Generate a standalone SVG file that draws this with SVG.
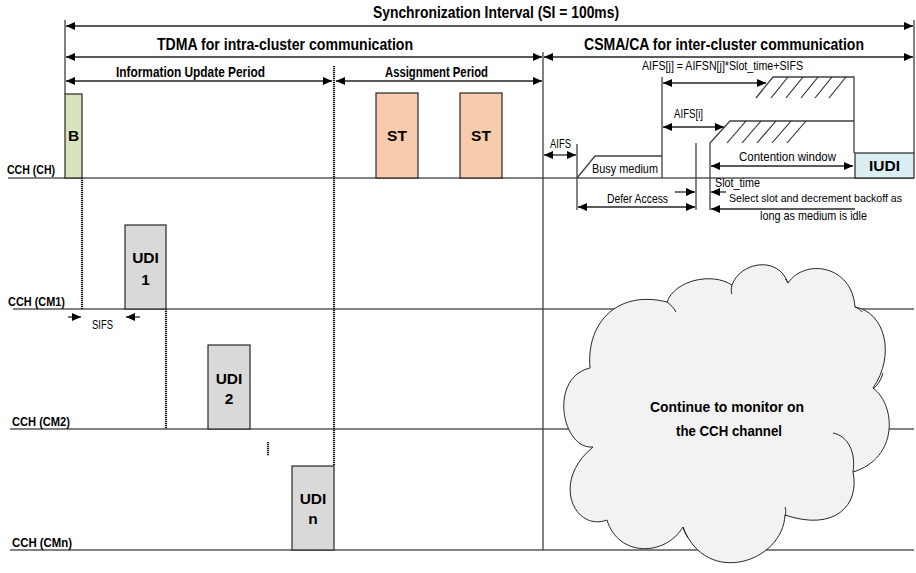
<svg xmlns="http://www.w3.org/2000/svg" width="916" height="573" viewBox="0 0 916 573">
<style>
text{font-family:"Liberation Sans",Arial,sans-serif;fill:#000}
.b{font-weight:bold}
.t16{font-size:16.5px}
.t15{font-size:15.5px}
.t14{font-size:14px}
.t13{font-size:13px}
.t12{font-size:13px}
.ln{stroke:#404040;stroke-width:1.3;fill:none}
.ch{stroke:#595959;stroke-width:1.3;fill:none}
.ar{stroke:#262626;stroke-width:1.3;fill:none;marker-end:url(#ah)}
.ar2{stroke:#262626;stroke-width:1.3;fill:none;marker-start:url(#ah);marker-end:url(#ah)}
.dot{stroke:#1a1a1a;stroke-width:2.2;stroke-dasharray:1.2 0.8;fill:none}
.box{stroke:#262626;stroke-width:1.2}
.ha{stroke:#262626;stroke-width:1.1;fill:none}
.cl{fill:none;stroke:#262626;stroke-width:1}
</style>
<defs>
<marker id="ah" markerUnits="userSpaceOnUse" markerWidth="10" markerHeight="9" refX="9" refY="4" orient="auto-start-reverse" viewBox="0 0 10 8">
<path d="M0,0 L9,4 L0,8 z" fill="#000"/>
</marker>
</defs>

<g id="channels">
<line class="ch" x1="8" y1="178" x2="914" y2="178"/>
<line class="ch" x1="13" y1="309" x2="914" y2="309"/>
<line class="ch" x1="10" y1="429" x2="914" y2="429"/>
<line class="ch" x1="10" y1="550" x2="914" y2="550"/>
<text class="b t13" x="7" y="174" textLength="48" lengthAdjust="spacingAndGlyphs">CCH (CH)</text>
<text class="b t13" x="8" y="306" textLength="57" lengthAdjust="spacingAndGlyphs">CCH (CM1)</text>
<text class="b t13" x="12" y="426" textLength="58" lengthAdjust="spacingAndGlyphs">CCH (CM2)</text>
<text class="b t13" x="12" y="547" textLength="60" lengthAdjust="spacingAndGlyphs">CCH (CMn)</text>
</g>

<g id="cloud">
<path d="M590,368 C586,320 620,290 667,302 C675,280 712,272 732,285 C740,262 778,255 788,283 C805,258 852,265 855,307 C885,312 896,355 873,388 C896,405 899,458 853,472 C860,505 835,532 785,515 C783,562 706,588 683,527 C665,557 618,557 607,520 C575,532 550,482 593,447 C562,450 548,378 590,368 Z" fill="#f2f2f2" stroke="#262626" stroke-width="1"/>
<path class="cl" d="M667,302 C671,305 674,308 676,312"/>
<path class="cl" d="M732,285 C731,289 731,292 732,294"/>
<path class="cl" d="M788,283 C787,281 786,280 785,279"/>
<path class="cl" d="M855,307 C858,308 861,310 862,312"/>
<path class="cl" d="M883,373 C881,380 878,385 873,389"/>
<path class="cl" d="M833,433 C848,436 856,452 853,472"/>
<path class="cl" d="M785,507 C786,510 786,513 785,516"/>
<path class="cl" d="M683,527 C684,531 686,535 688,538"/>
<text class="b t14" x="650" y="412" textLength="154" lengthAdjust="spacingAndGlyphs">Continue to monitor on</text>
<text class="b t14" x="676" y="436" textLength="106" lengthAdjust="spacingAndGlyphs">the CCH channel</text>
</g>

<g id="connectors">
<line class="ln" x1="65" y1="20" x2="65" y2="94"/>
<line class="ln" x1="914" y1="20" x2="914" y2="153"/>
<line class="ln" x1="543" y1="52" x2="543" y2="550"/>
<line class="dot" x1="334" y1="66" x2="334" y2="466"/>
<line class="dot" x1="82" y1="178" x2="82" y2="309"/>
<line class="dot" x1="166" y1="309" x2="166" y2="429"/>
<line class="dot" x1="268" y1="442" x2="268" y2="456"/>
<line class="ar2" x1="66" y1="26" x2="913" y2="26"/>
<line class="ar2" x1="66" y1="57" x2="542" y2="57"/>
<line class="ar2" x1="544" y1="57" x2="913" y2="57"/>
<line class="ar2" x1="66" y1="81" x2="332" y2="81"/>
<line class="ar2" x1="336" y1="81" x2="542" y2="81"/>
<line class="ar" x1="68" y1="317" x2="81" y2="317"/>
<line class="ar" x1="140" y1="317" x2="126" y2="317"/>
<line class="ln" x1="662" y1="77" x2="662" y2="178"/>
<line class="ln" x1="577" y1="144" x2="577" y2="210"/>
<line class="ln" x1="696" y1="143" x2="696" y2="210"/>
<polyline class="ln" points="577,178 595,156 662,156"/>
<polyline class="ln" points="710,210 710,143 730,121 854,121"/>
<polyline class="ln" points="756,98 773,77 854,77 854,153"/>
<g class="ha">
<line x1="771" y1="98" x2="788" y2="77"/>
<line x1="786" y1="98" x2="803" y2="77"/>
<line x1="801" y1="98" x2="818" y2="77"/>
<line x1="815" y1="98" x2="832" y2="77"/>
<line x1="829" y1="98" x2="846" y2="77"/>
<line x1="727" y1="143" x2="746" y2="121"/>
<line x1="742" y1="143" x2="761" y2="121"/>
<line x1="757" y1="143" x2="776" y2="121"/>
<line x1="772" y1="143" x2="791" y2="121"/>
<line x1="787" y1="143" x2="806" y2="121"/>
</g>
<line class="ar2" x1="663" y1="83" x2="766" y2="83"/>
<line class="ar2" x1="663" y1="127" x2="724" y2="127"/>
<line class="ar2" x1="711" y1="166" x2="853" y2="166"/>
<line class="ar2" x1="544" y1="155" x2="576" y2="155"/>
<line class="ar2" x1="578" y1="207" x2="695" y2="207"/>
<line class="ar" x1="675" y1="192" x2="695" y2="192"/>
<line class="ar" x1="726" y1="192" x2="711" y2="192"/>
<line class="ar" x1="855" y1="209" x2="711" y2="209"/>
</g>

<g id="labels">
<text class="b t16" x="373" y="18" textLength="246" lengthAdjust="spacingAndGlyphs">Synchronization Interval (SI = 100ms)</text>
<text class="b t16" x="157" y="50" textLength="256" lengthAdjust="spacingAndGlyphs">TDMA for intra-cluster communication</text>
<text class="b t16" x="584" y="50" textLength="280" lengthAdjust="spacingAndGlyphs">CSMA/CA for inter-cluster communication</text>
<text class="b t14" x="116" y="77" textLength="149" lengthAdjust="spacingAndGlyphs">Information Update Period</text>
<text class="b t14" x="385" y="77" textLength="103" lengthAdjust="spacingAndGlyphs">Assignment Period</text>
<text class="t12" x="642" y="70" textLength="161" lengthAdjust="spacingAndGlyphs">AIFS[j] = AIFSN[j]*Slot_time+SIFS</text>
<text class="t12" x="674" y="118" textLength="29" lengthAdjust="spacingAndGlyphs">AIFS[i]</text>
<text class="t12" x="550" y="148" textLength="21" lengthAdjust="spacingAndGlyphs">AIFS</text>
<text class="t12" x="592" y="173" textLength="66" lengthAdjust="spacingAndGlyphs">Busy medium</text>
<text class="t12" x="607" y="203" textLength="61" lengthAdjust="spacingAndGlyphs">Defer Access</text>
<text class="t12" x="739" y="161" textLength="97" lengthAdjust="spacingAndGlyphs">Contention window</text>
<text class="t12" x="715" y="187" textLength="45" lengthAdjust="spacingAndGlyphs">Slot_time</text>
<text x="729" y="202" font-size="11" textLength="173" lengthAdjust="spacingAndGlyphs">Select slot and decrement backoff as</text>
<text class="t12" x="760" y="220" textLength="107" lengthAdjust="spacingAndGlyphs">long as medium is idle</text>
<text class="t12" x="92" y="329" textLength="21" lengthAdjust="spacingAndGlyphs">SIFS</text>
</g>

<g id="node-B">
<rect class="box" x="65" y="94" width="17" height="84" fill="#d8e4bc"/>
<text class="b t15" x="73.5" y="141" text-anchor="middle">B</text>
</g>
<g id="node-ST1">
<rect class="box" x="376" y="93" width="42" height="85" fill="#f8cbad"/>
<text class="b t15" x="397" y="141" text-anchor="middle">ST</text>
</g>
<g id="node-ST2">
<rect class="box" x="460" y="93" width="42" height="85" fill="#f8cbad"/>
<text class="b t15" x="481" y="141" text-anchor="middle">ST</text>
</g>
<g id="node-UDI1">
<rect class="box" x="125" y="225" width="41" height="84" fill="#d9d9d9"/>
<text class="b t15" x="145.5" y="263" text-anchor="middle">UDI</text>
<text class="b t15" x="145.5" y="285" text-anchor="middle">1</text>
</g>
<g id="node-UDI2">
<rect class="box" x="208" y="345" width="42" height="84" fill="#d9d9d9"/>
<text class="b t15" x="229" y="384" text-anchor="middle">UDI</text>
<text class="b t15" x="229" y="404" text-anchor="middle">2</text>
</g>
<g id="node-UDIn">
<rect class="box" x="292" y="466" width="42" height="84" fill="#d9d9d9"/>
<text class="b t15" x="313" y="504" text-anchor="middle">UDI</text>
<text class="b t15" x="313" y="524" text-anchor="middle">n</text>
</g>
<g id="node-IUDI">
<rect class="box" x="855" y="153" width="59" height="25" fill="#daeef3"/>
<text class="b t15" x="884.5" y="171" text-anchor="middle">IUDI</text>
</g>
</svg>
